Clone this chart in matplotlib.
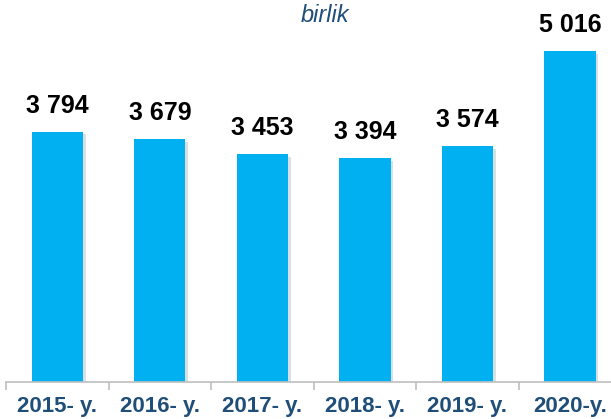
import matplotlib.pyplot as plt
import matplotlib.patheffects as pe

years = ["2015- y.", "2016- y.", "2017- y.", "2018- y.", "2019- y.", "2020-y."]
values = [3794, 3679, 3453, 3394, 3574, 5016]
value_labels = ["3 794", "3 679", "3 453", "3 394", "3 574", "5 016"]

plt.rcParams["font.family"] = ["Liberation Sans", "DejaVu Sans"]

fig = plt.figure(figsize=(6.11, 4.19), dpi=100)
ax = fig.add_axes([6 / 611, 1 - 382 / 419, 605 / 611, 382 / 419])

x = range(len(values))
bars = ax.bar(x, values, width=0.5, color="#00B0F0", zorder=2)
for b in bars:
    b.set_path_effects([pe.SimplePatchShadow(offset=(2, -2), alpha=0.15), pe.Normal()])

for xi, v, lab in zip(x, values, value_labels):
    ax.annotate(lab, (xi, v), xytext=(0, 10), textcoords="offset points",
                ha="center", va="bottom", fontsize=18, fontweight="bold", color="black")

for s in ["top", "right", "left"]:
    ax.spines[s].set_visible(False)
ax.spines["bottom"].set_color("#BFBFBF")
ax.spines["bottom"].set_linewidth(1.2)
ax.set_yticks([])

ax.set_xticks(list(x))
ax.set_xticklabels(years, fontsize=16, fontweight="bold", color="#1F4E79")
ax.tick_params(axis="x", which="major", length=0, pad=10)
ax.set_xticks([i - 0.5 for i in range(len(values) + 1)], minor=True)
ax.tick_params(axis="x", which="minor", length=6, color="#BFBFBF", width=1.2)

ax.set_xlim(-0.5, 5.4)
ax.set_ylim(0, 5790)

fig.text(325 / 611, 1 - 16 / 419, "birlik", ha="center", va="center",
         fontsize=17, style="italic", color="#1F4E79")

fig.savefig("out.png", dpi=100)
plt.close()
